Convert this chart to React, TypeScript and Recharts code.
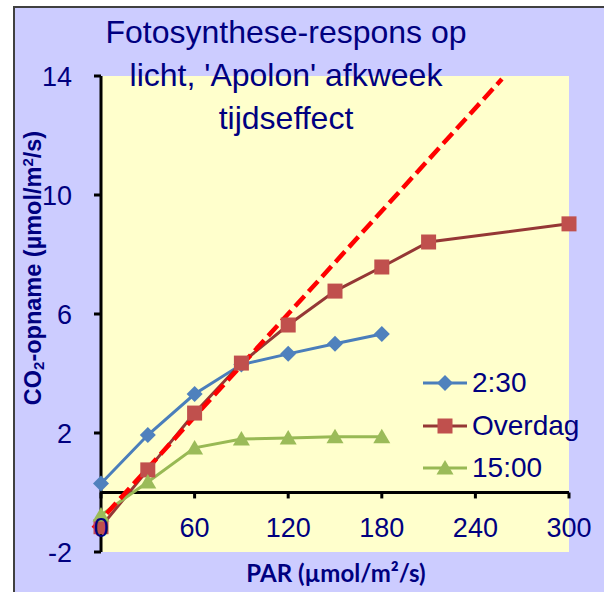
import {
  CartesianGrid,
  ComposedChart,
  Legend,
  Line,
  ReferenceLine,
  XAxis,
  YAxis,
} from 'recharts';

// PAR (µmol/m²/s) levels
const PAR = [0, 30, 60, 90, 120, 150, 180, 210, 300];
// CO2 uptake per series
const NACHT = [0.3, 1.93, 3.31, 4.3, 4.66, 5.0, 5.33, null, null];
const OVERDAG = [-1.15, 0.76, 2.67, 4.35, 5.63, 6.77, 7.58, 8.42, 9.03];
const MIDDAG = [-0.76, 0.35, 1.5, 1.8, 1.83, 1.87, 1.87, null, null];
// red dashed initial-slope line (start / end)
const TREND = [
  { x: -5, y: -1.2 },
  { x: 257, y: 13.9 },
];
const X_TICKS = [0, 60, 120, 180, 240, 300];
const Y_TICKS = [-2, 2, 6, 10, 14];

const NAVY = '#000080';
const FONT = '"Liberation Sans", Arial, sans-serif';

const SERIES = [
  { key: 'nacht', name: '2:30', line: '#4A7EBB', marker: '#4F81BD', shape: 'diamond' },
  { key: 'overdag', name: 'Overdag', line: '#953735', marker: '#C0504D', shape: 'square' },
  { key: 'middag', name: '15:00', line: '#98B954', marker: '#9BBB59', shape: 'triangle' },
];

const chartData = PAR.map((par, i) => ({
  par,
  nacht: NACHT[i],
  overdag: OVERDAG[i],
  middag: MIDDAG[i],
}));

function Marker({ shape, cx, cy, fill }: { shape: string; cx: number; cy: number; fill: string }) {
  if (shape === 'diamond') {
    return (
      <polygon
        points={`${cx},${cy - 8} ${cx + 8},${cy} ${cx},${cy + 8} ${cx - 8},${cy}`}
        fill={fill}
      />
    );
  }
  if (shape === 'square') {
    return <rect x={cx - 7.5} y={cy - 7.5} width={15} height={15} fill={fill} />;
  }
  return (
    <polygon
      points={`${cx},${cy - 8} ${cx + 8.5},${cy + 6.5} ${cx - 8.5},${cy + 6.5}`}
      fill={fill}
    />
  );
}

function makeDot(shape: string, fill: string) {
  return (props: any) => {
    const { cx, cy, index, value } = props;
    if (value == null || cx == null || cy == null) {
      return <g key={`${shape}-${index}`} />;
    }
    return (
      <g key={`${shape}-${index}`}>
        <Marker shape={shape} cx={cx} cy={cy} fill={fill} />
      </g>
    );
  };
}

function XTick({ x, y, payload }: any) {
  return (
    <text
      x={x}
      y={y - 15}
      textAnchor="middle"
      fill={NAVY}
      fontSize={27}
      fontFamily={FONT}
    >
      {payload.value}
    </text>
  );
}

function LegendContent() {
  return (
    <div style={{ fontFamily: FONT, fontSize: 28, color: NAVY }}>
      {SERIES.map((s) => (
        <div
          key={s.key}
          style={{ display: 'flex', alignItems: 'center', height: 42.5 }}
        >
          <svg width={44} height={20} style={{ marginRight: 5 }}>
            <line x1={0} y1={10} x2={44} y2={10} stroke={s.line} strokeWidth={3} />
            <Marker shape={s.shape} cx={22} cy={10} fill={s.marker} />
          </svg>
          <span style={{ lineHeight: 1 }}>{s.name}</span>
        </div>
      ))}
    </div>
  );
}

export default function App() {
  return (
    <div
      style={{
        position: 'absolute',
        left: 0,
        top: 0,
        width: 604,
        height: 592,
        overflow: 'hidden',
        background: '#ffffff',
      }}
    >
      <div
        style={{
          position: 'absolute',
          left: 13,
          top: 6,
          width: 620,
          height: 620,
          background: '#CCCCFF',
          borderLeft: '2px solid #404040',
          borderTop: '2px solid #404040',
        }}
      />
      <div style={{ position: 'absolute', left: 0, top: 0 }}>
        <ComposedChart
          width={604}
          height={592}
          data={chartData}
          margin={{ top: 76, right: 35, left: 0, bottom: 0 }}
        >
          <CartesianGrid
            horizontal={false}
            vertical={false}
            fill="#FFFFCC"
            stroke="none"
          />
          <XAxis
            dataKey="par"
            type="number"
            domain={[0, 300]}
            ticks={X_TICKS}
            height={40}
            axisLine={false}
            tickLine={false}
            tickSize={0}
            tickMargin={0}
            tick={<XTick />}
            interval={0}
          />
          <YAxis
            type="number"
            domain={[-2, 14]}
            ticks={Y_TICKS}
            width={101}
            interval={0}
            axisLine={{ stroke: '#000000', strokeWidth: 3 }}
            tickLine={{ stroke: '#000000', strokeWidth: 3 }}
            tickSize={7}
            tickMargin={22}
            tick={{ fill: NAVY, fontSize: 27, fontFamily: FONT }}
          />
          <ReferenceLine y={0} stroke="#000000" strokeWidth={3} />
          {X_TICKS.map((t) => (
            <ReferenceLine
              key={`xt-${t}`}
              segment={[
                { x: t, y: 0 },
                { x: t, y: -0.2 },
              ]}
              stroke="#000000"
              strokeWidth={3}
              ifOverflow="visible"
            />
          ))}
          {SERIES.map((s) => (
            <Line
              key={s.key}
              type="linear"
              dataKey={s.key}
              name={s.name}
              stroke={s.line}
              strokeWidth={3}
              dot={makeDot(s.shape, s.marker)}
              activeDot={false}
              isAnimationActive={false}
            />
          ))}
          <ReferenceLine
            segment={TREND}
            stroke="#FF0000"
            strokeWidth={4.5}
            strokeDasharray="14 6"
            ifOverflow="visible"
          />
          <Legend
            layout="vertical"
            verticalAlign="middle"
            align="center"
            content={<LegendContent />}
            wrapperStyle={{ position: 'absolute', left: 423, top: 362, width: 180 }}
          />
        </ComposedChart>
      </div>
      <div
        style={{
          position: 'absolute',
          left: 0,
          top: 11,
          width: 572,
          textAlign: 'center',
          fontFamily: FONT,
          fontSize: 32,
          lineHeight: '43px',
          color: NAVY,
          pointerEvents: 'none',
        }}
      >
        Fotosynthese-respons op
        <br />
        licht, 'Apolon' afkweek
        <br />
        tijdseffect
      </div>
      <div
        style={{
          position: 'absolute',
          left: 33,
          top: 268,
          transform: 'translate(-50%, -50%) rotate(-90deg)',
          whiteSpace: 'nowrap',
          fontFamily: FONT,
          fontWeight: 'bold',
          fontSize: 23.5,
          lineHeight: 1,
          color: NAVY,
        }}
      >
        CO<sub style={{ fontSize: 15, verticalAlign: -3 }}>2</sub>-opname (µmol/m
        <sup style={{ fontSize: 15, verticalAlign: 8 }}>2</sup>/s)
      </div>
      <div
        style={{
          position: 'absolute',
          left: 336,
          top: 573,
          transform: 'translate(-50%, -50%)',
          whiteSpace: 'nowrap',
          fontFamily: 'Lato, "Open Sans", sans-serif',
          fontWeight: 'bold',
          fontSize: 24,
          lineHeight: 1,
          color: NAVY,
        }}
      >
        PAR (µmol/m²/s)
      </div>
    </div>
  );
}
